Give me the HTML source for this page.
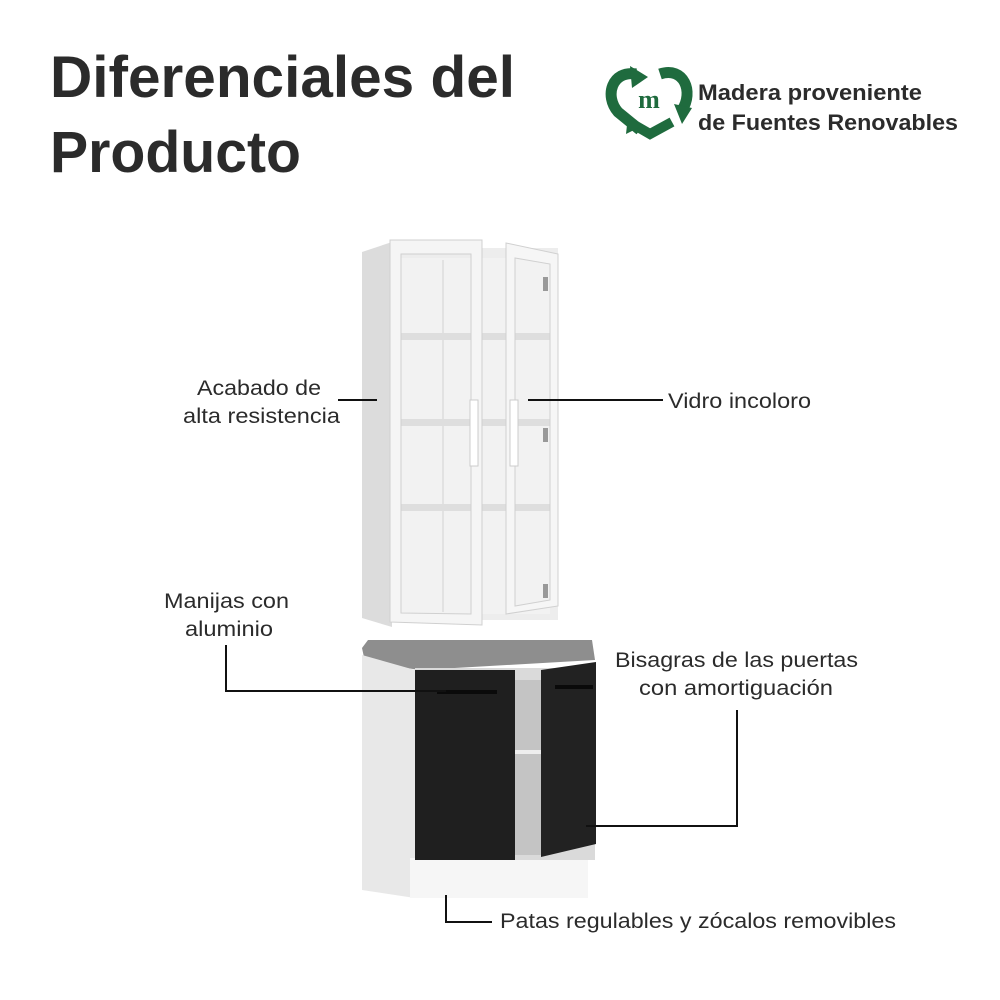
<!DOCTYPE html>
<html><head><meta charset="utf-8"><style>
html,body{margin:0;padding:0;background:#fff}
svg{display:block}
text{font-family:"Liberation Sans",sans-serif;fill:#2b2b2b}
</style></head><body>
<svg width="1000" height="1000" viewBox="0 0 1000 1000" xmlns="http://www.w3.org/2000/svg">
<rect width="1000" height="1000" fill="#fff"/>
<text x="50" y="97" font-size="58" font-weight="bold" fill="#333" textLength="465" lengthAdjust="spacingAndGlyphs">Diferenciales del</text>
<text x="50" y="172" font-size="58" font-weight="bold" fill="#333" textLength="251" lengthAdjust="spacingAndGlyphs">Producto</text>
<!-- logo -->
<g fill="none">
<path d="M636 74 C612 70 604 96 618 112 L640 130" stroke="#1f6b3e" stroke-width="11"/>
<path d="M660 74 C684 66 694 92 682 110" stroke="#1f6b3e" stroke-width="11"/>
<path d="M672 122 L650 134 L636 126" stroke="#1f6b3e" stroke-width="10"/>
</g>
<polygon points="630,66 648,77 632,88" fill="#1f6b3e"/>
<polygon points="674,104 692,108 682,124" fill="#1f6b3e"/>
<polygon points="628,116 642,126 626,134" fill="#1f6b3e"/>
<text x="649" y="108" font-size="26" font-weight="bold" text-anchor="middle" style="fill:#1f6b3e;font-family:'Liberation Serif',serif">m</text>
<text x="698" y="100" font-size="22" font-weight="bold" fill="#333" textLength="224" lengthAdjust="spacingAndGlyphs">Madera proveniente</text>
<text x="698" y="130" font-size="22" font-weight="bold" fill="#333" textLength="260" lengthAdjust="spacingAndGlyphs">de Fuentes Renovables</text>

<!-- upper cabinet -->
<polygon points="362,252 392,242 392,627 362,618" fill="#dcdcdc"/>
<rect x="390" y="248" width="168" height="372" fill="#ededed"/>
<rect x="400" y="258" width="150" height="356" fill="#f2f2f2"/>
<line x1="443" y1="260" x2="443" y2="612" stroke="#e2e2e2" stroke-width="2"/>
<g fill="#dedede">
<rect x="400" y="333" width="150" height="7"/>
<rect x="400" y="419" width="150" height="7"/>
<rect x="400" y="504" width="150" height="7"/>
</g>
<!-- left door (glass) -->
<path d="M390 240 L482 240 L482 625 L390 622 Z M401 254 L401 613 L471 614 L471 254 Z" fill="#f5f5f5" fill-rule="evenodd" stroke="#d0d0d0"/>
<rect x="470" y="400" width="8" height="66" fill="#fff" stroke="#ccc"/>
<!-- right door -->
<path d="M506 243 L558 254 L558 606 L506 614 Z M515 258 L515 606 L550 600 L550 264 Z" fill="#f6f6f6" fill-rule="evenodd" stroke="#d0d0d0"/>
<rect x="510" y="400" width="8" height="66" fill="#fff" stroke="#ccc"/>
<rect x="543" y="277" width="5" height="14" fill="#999"/>
<rect x="543" y="428" width="5" height="14" fill="#999"/>
<rect x="543" y="584" width="5" height="14" fill="#999"/>

<!-- lower cabinet -->
<polygon points="362,648 368,640 592,640 595,660 420,670 365,662" fill="#8e8e8e"/>
<polygon points="362,655 415,670 415,898 362,890" fill="#e8e8e8"/>
<rect x="410" y="858" width="178" height="40" fill="#f6f6f6"/>
<rect x="415" y="668" width="180" height="192" fill="#dadada"/>
<rect x="515" y="680" width="30" height="175" fill="#c4c4c4"/>
<rect x="515" y="750" width="30" height="4" fill="#eee"/>
<rect x="415" y="670" width="100" height="190" fill="#1f1f1f"/>
<rect x="437" y="690" width="60" height="4" fill="#0a0a0a"/>
<polygon points="541,670 596,662 596,844 541,857" fill="#222"/>
<rect x="555" y="685" width="38" height="4" fill="#0a0a0a"/>

<!-- connectors -->
<g stroke="#111" stroke-width="2" fill="none">
<line x1="338" y1="400" x2="377" y2="400"/>
<line x1="528" y1="400" x2="663" y2="400"/>
<polyline points="226,645 226,691 446,691"/>
<polyline points="737,710 737,826 586,826"/>
<polyline points="446,895 446,922 492,922"/>
</g>
<g font-size="21">
<text x="197" y="395" textLength="124" lengthAdjust="spacingAndGlyphs">Acabado de</text>
<text x="183" y="423" textLength="157" lengthAdjust="spacingAndGlyphs">alta resistencia</text>
<text x="668" y="408" textLength="143" lengthAdjust="spacingAndGlyphs">Vidro incoloro</text>
<text x="164" y="608" textLength="125" lengthAdjust="spacingAndGlyphs">Manijas con</text>
<text x="185" y="636" textLength="88" lengthAdjust="spacingAndGlyphs">aluminio</text>
<text x="615" y="667" textLength="243" lengthAdjust="spacingAndGlyphs">Bisagras de las puertas</text>
<text x="639" y="695" textLength="194" lengthAdjust="spacingAndGlyphs">con amortiguación</text>
<text x="500" y="928" textLength="396" lengthAdjust="spacingAndGlyphs">Patas regulables y zócalos removibles</text>
</g>
</svg>
</body></html>
